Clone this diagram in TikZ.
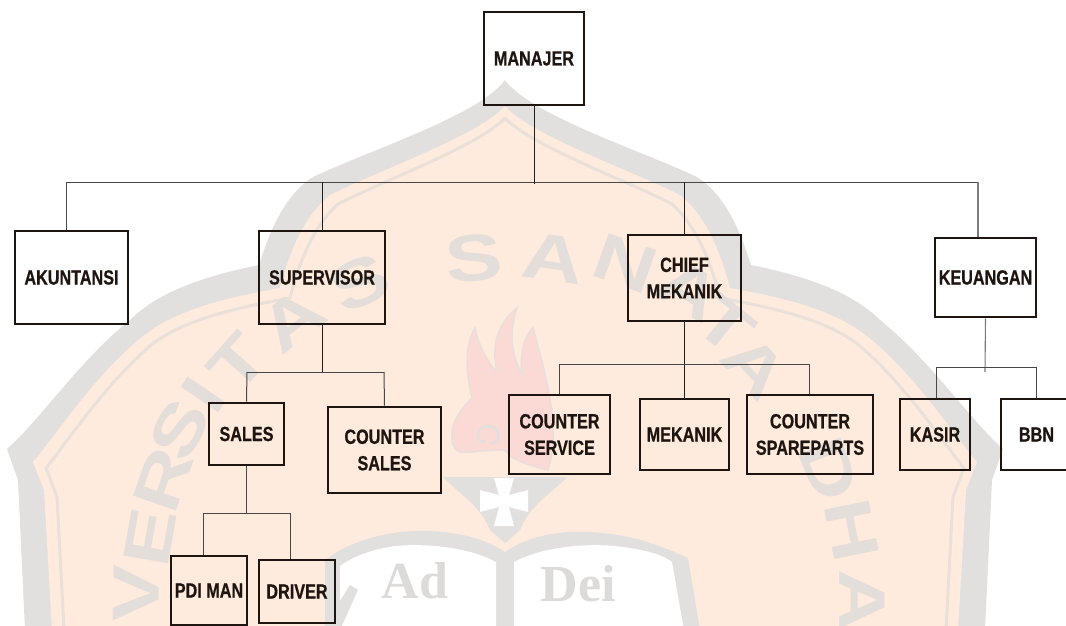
\documentclass[tikz,border=0pt]{standalone}
\usepackage{fontspec}
\newfontfamily\boxfont{Liberation Sans Bold}[FakeStretch=0.79,FakeBold=0.6]
\newfontfamily\wmfont{Liberation Sans Bold}[FakeStretch=1.3]
\newfontfamily\wmserif{Liberation Serif Bold}
\definecolor{cream}{HTML}{FEEBDD}
\definecolor{band}{HTML}{E2E0DE}
\definecolor{wmtxt}{HTML}{E4DEDA}
\definecolor{thinband}{HTML}{E9E0D9}
\definecolor{flamec}{HTML}{FBDAD6}
\definecolor{wmserifc}{HTML}{DCDBDA}
\definecolor{ink}{HTML}{1E1510}
\tikzset{
  orgbox/.style={draw=ink,line width=2.7pt,inner sep=0pt,align=center,text=ink,
    font=\boxfont\fontsize{20.5}{26.5}\selectfont},
  conn/.style={line width=1pt,draw=black!72},
  stem/.style={line width=1pt,draw=black!88},
  connlight/.style={line width=1.1pt,draw=black!52},
  wmletter/.style={text=wmtxt,inner sep=0pt,font=\wmfont\fontsize{66}{66}\selectfont},
  wmword/.style={text=wmserifc,inner sep=0pt,font=\wmserif\fontsize{52}{52}\selectfont}
}
\begin{document}
\begin{tikzpicture}[x=1pt,y=-1pt]
\useasboundingbox (0,0) rectangle (1066,626);
\clip (0,0) rectangle (1066,626);
\fill[white] (0,0) rectangle (1066,626);
% watermark shield
\fill[band] (505,80) .. controls (530,115) and (640,150) .. (697,177) .. controls (725,195) and (740,230) .. (751,265) .. controls (800,275) and (850,290) .. (880,320) .. controls (930,360) and (970,420) .. (1003,449) -- (992,480) -- (985,630) -- (25,630) -- (18,480) -- (7,449) .. controls (40,420) and (80,360) .. (130,320) .. controls (160,290) and (210,275) .. (259,265) .. controls (270,230) and (285,195) .. (313,177) .. controls (370,150) and (480,115) .. (505,80) -- cycle;
\fill[cream] (505,106) .. controls (530,135) and (630,170) .. (680,195) .. controls (705,215) and (720,250) .. (730,288) .. controls (785,298) and (835,310) .. (868,337) .. controls (915,375) and (950,430) .. (977,462) -- (966,490) -- (958,630) -- (52,630) -- (44,490) -- (33,462) .. controls (60,430) and (95,375) .. (142,337) .. controls (175,310) and (225,298) .. (280,288) .. controls (290,250) and (305,215) .. (330,195) .. controls (380,170) and (480,135) .. (505,106) -- cycle;
\draw[thinband,line width=3pt] (505,118) .. controls (530,145) and (625,180) .. (672,204) .. controls (695,225) and (710,258) .. (720,298) .. controls (775,308) and (828,320) .. (860,346) .. controls (905,385) and (940,438) .. (964,468) -- (953,497) -- (946,630);
\draw[thinband,line width=3pt] (505,118) .. controls (480,145) and (385,180) .. (338,204) .. controls (315,225) and (300,258) .. (290,298) .. controls (235,308) and (182,320) .. (150,346) .. controls (105,385) and (70,438) .. (46,468) -- (57,497) -- (64,630);
% watermark letters
\foreach \px/\py/\ch [count=\i] in {474/258/S,553/258/A,625/264/N,690/290/A,725/325/T,755/367/A,829/470/D,852/530/H,862/600/A,
  360/283/S,292/320/A,238/363/T,203/395/I,180/430/S,163/480/R,150/537/E,136/593/V}{
  \node[wmletter,rotate={-atan2(\px-505,600-\py)}] (wm\i) at (\px,\py) {\ch};
}
% flame
\fill[flamec,draw=band!80!flamec,line width=1.5pt] (517,308) .. controls (495,325) and (492,350) .. (497,372) .. controls (490,365) and (480,350) .. (475,328) .. controls (462,350) and (468,380) .. (472,398) .. controls (460,410) and (448,425) .. (453,445) .. controls (458,458) and (470,450) .. (505,450) .. controls (512,462) and (540,468) .. (548,470) .. controls (560,430) and (550,390) .. (533,328) .. controls (522,338) and (520,360) .. (522,375) .. controls (512,355) and (508,335) .. (517,308) -- cycle;
\draw[band,line width=2.5pt] (490,443) .. controls (502,445) and (502,425) .. (486,426) .. controls (476,428) and (474,442) .. (486,442);
% torch bowl and cross
\fill[band] (443,477) -- (567,477) .. controls (550,495) and (530,505) .. (520,530) -- (505,543) -- (490,530) .. controls (480,505) and (460,495) .. (443,477) -- cycle;
\fill[white] (494,478) -- (514,478) -- (509,495) -- (528,490) -- (528,512) -- (509,507) -- (514,526) -- (494,526) -- (499,507) -- (480,512) -- (480,490) -- (499,495) -- cycle;
% book
\fill[band] (505,552) .. controls (480,535) and (440,528) .. (400,532) .. controls (370,536) and (345,545) .. (325,560) -- (325,630) -- (700,630) -- (688,558) .. controls (660,545) and (630,534) .. (590,532) .. controls (555,530) and (525,538) .. (505,552) -- cycle;
\fill[white] (496,562) .. controls (470,548) and (430,543) .. (395,546) .. controls (375,549) and (355,555) .. (340,566) -- (340,630) -- (496,630) -- cycle;
\fill[white] (514,562) .. controls (540,548) and (580,543) .. (615,546) .. controls (640,549) and (660,553) .. (672,562) -- (684,630) -- (514,630) -- cycle;
\fill[band] (322,630) -- (350,585) -- (358,590) -- (340,630) -- cycle;
\node[wmword] (wmad) at (415,581) {Ad};
\node[wmword] (wmdei) at (578,584) {Dei};
% boxes
\node[orgbox,minimum width=100pt,minimum height=93pt] (manajer) at (534,58.5) {MANAJER};
\node[orgbox,minimum width=113pt,minimum height=93pt] (akun) at (71.5,277.5) {AKUNTANSI};
\node[orgbox,minimum width=126pt,minimum height=93pt] (super) at (322,277.5) {SUPERVISOR};
\node[orgbox,minimum width=113pt,minimum height=86pt] (chief) at (684.5,278) {CHIEF\\MEKANIK};
\node[orgbox,minimum width=101pt,minimum height=79pt] (keu) at (985.5,277.5) {KEUANGAN};
\node[orgbox,minimum width=75pt,minimum height=62pt] (sales) at (246.5,434) {SALES};
\node[orgbox,minimum width=113pt,minimum height=86pt] (csales) at (384.5,450) {COUNTER\\SALES};
\node[orgbox,minimum width=76pt,minimum height=69pt] (pdi) at (209,590.5) {PDI MAN};
\node[orgbox,minimum width=76pt,minimum height=63pt] (driver) at (297,591.5) {DRIVER};
\node[orgbox,minimum width=101pt,minimum height=79pt] (cservice) at (559.5,434.5) {COUNTER\\SERVICE};
\node[orgbox,minimum width=89pt,minimum height=71pt] (mekanik) at (684.5,434.5) {MEKANIK};
\node[orgbox,minimum width=126pt,minimum height=79pt] (cspare) at (810,434.5) {COUNTER\\SPAREPARTS};
\node[orgbox,minimum width=70pt,minimum height=71pt] (kasir) at (935,434.5) {KASIR};
\node[orgbox,minimum width=71pt,minimum height=71pt] (bbn) at (1036.5,434.5) {BBN};
% bus coordinates
\coordinate (topL) at (66,182);
\coordinate (topR) at (978,182);
\coordinate (topM) at (534,184);
\coordinate (supL) at (247,372);
\coordinate (supR) at (384,372);
\coordinate (salL) at (203,513);
\coordinate (salR) at (290,513);
\coordinate (chiL) at (559,364);
\coordinate (chiR) at (809,364);
\coordinate (keuL) at (936,367);
\coordinate (keuR) at (1036,367);
\coordinate (keuM) at (985,372);
% connectors
\draw[conn] (topL) -- (topR);
\draw[stem] (manajer.south) -- (topM);
\draw[conn] (topL) -- (topL |- akun.north);
\draw[stem] (super.north |- topL) -- (super.north);
\draw[stem] (chief.north |- topL) -- (chief.north);
\draw[connlight] (topR) -- (topR |- keu.north);
\draw[stem] (super.south) -- (super.south |- supL);
\draw[conn] (supL) -- (supR);
\draw[conn] (supL) -- (sales.north);
\draw[conn] (supR) -- (csales.north);
\draw[conn] (sales.south) -- (sales.south |- salL);
\draw[conn] (salL) -- (salR);
\draw[conn] (salL) -- (salL |- pdi.north);
\draw[conn] (salR) -- (salR |- driver.north);
\draw[stem] (chief.south) -- (mekanik.north);
\draw[conn] (chiL) -- (chiR);
\draw[conn] (chiL) -- (chiL |- cservice.north);
\draw[conn] (chiR) -- (chiR |- cspare.north);
\draw[connlight] (keu.south) -- (keuM);
\draw[conn] (keuL) -- (keuR);
\draw[conn] (keuL) -- (keuL |- kasir.north);
\draw[conn] (keuR) -- (keuR |- bbn.north);
\end{tikzpicture}
\end{document}
